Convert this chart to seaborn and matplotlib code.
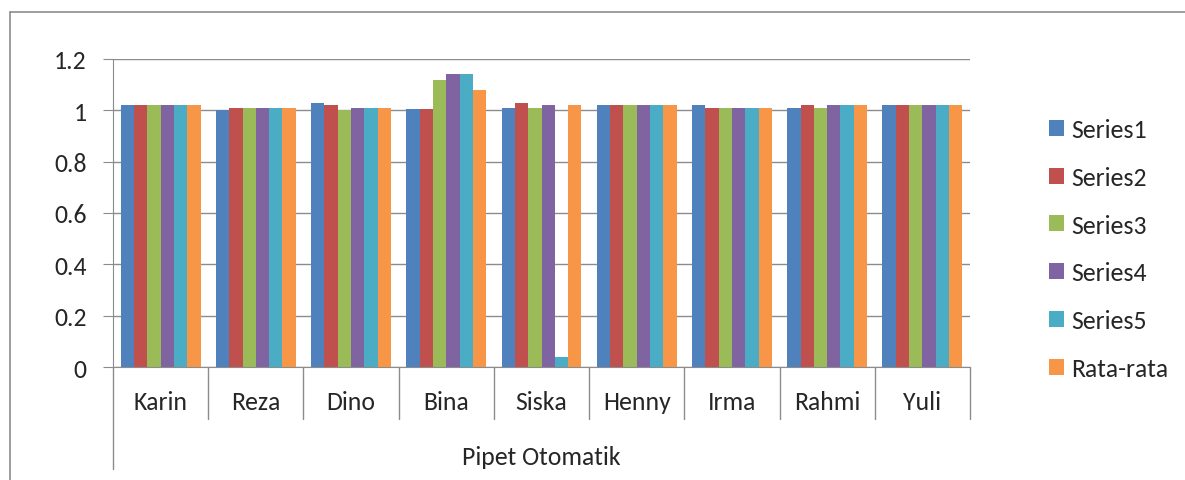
import numpy as np
import pandas as pd
import seaborn as sns
import matplotlib.pyplot as plt
from matplotlib.ticker import FuncFormatter

names = ['Karin', 'Reza', 'Dino', 'Bina', 'Siska', 'Henny', 'Irma', 'Rahmi', 'Yuli']
series_names = ['Series1', 'Series2', 'Series3', 'Series4', 'Series5', 'Rata-rata']

series1 = [1.02, 1.00, 1.03, 1.005, 1.01, 1.02, 1.02, 1.01, 1.02]
series2 = [1.02, 1.01, 1.02, 1.005, 1.03, 1.02, 1.01, 1.02, 1.02]
series3 = [1.02, 1.01, 1.00, 1.12, 1.01, 1.02, 1.01, 1.01, 1.02]
series4 = [1.02, 1.01, 1.01, 1.14, 1.02, 1.02, 1.01, 1.02, 1.02]
series5 = [1.02, 1.01, 1.01, 1.14, 0.04, 1.02, 1.01, 1.02, 1.02]
rata_rata = [1.02, 1.01, 1.01, 1.08, 1.02, 1.02, 1.01, 1.02, 1.02]

colors = ['#4F81BD', '#C0504D', '#9BBB59', '#8064A2', '#4BACC6', '#F79646']

rows = []
for s, vals in zip(series_names, [series1, series2, series3, series4, series5, rata_rata]):
    for n, v in zip(names, vals):
        rows.append({'name': n, 'series': s, 'value': v})
df = pd.DataFrame(rows)

sns.set_style('white')
plt.rcParams['font.family'] = ['Carlito', 'Liberation Sans', 'DejaVu Sans']
fs = 18.5
grey = '#8c8c8c'

fig = plt.figure(figsize=(11.85, 4.81), dpi=100)
ax = fig.add_axes([113 / 1185, 1 - 368 / 481, (970 - 113) / 1185, (368 - 60) / 481])

sns.barplot(data=df, x='name', y='value', hue='series', order=names,
            hue_order=series_names, palette=colors, width=0.84,
            saturation=1, gap=0, ax=ax, legend=True)

for bar in ax.patches:
    bar.set_edgecolor('none')

ax.set_ylim(0, 1.2)
ax.set_yticks([0, 0.2, 0.4, 0.6, 0.8, 1.0, 1.2])
ax.yaxis.set_major_formatter(FuncFormatter(lambda v, p: '%g' % round(v, 1)))
ax.grid(axis='y', color=grey, linewidth=1)
ax.set_axisbelow(True)
ax.set_xlim(-0.5, len(names) - 0.5)
ax.set_xlabel('')
ax.set_ylabel('')
ax.set_xticks([])
ax.tick_params(axis='y', labelsize=fs, length=7, color=grey, left=True, pad=12)
for side in ['top', 'right']:
    ax.spines[side].set_visible(False)
ax.spines['left'].set_color(grey)
ax.spines['bottom'].set_color(grey)

# category labels with separators
for i, n in enumerate(names):
    ax.text(i, -0.136, n, ha='center', va='center', fontsize=fs, clip_on=False)
for i in range(1, len(names) + 1):
    x = i - 0.5
    ax.plot([x, x], [0, -0.203], color=grey, linewidth=1, clip_on=False)
ax.plot([-0.5, -0.5], [0, -0.397], color=grey, linewidth=1, clip_on=False)
ax.text((len(names) - 1) / 2, -0.347, 'Pipet Otomatik', ha='center', va='center', fontsize=fs, clip_on=False)

handles, labels = ax.get_legend_handles_labels()
ax.legend(handles, labels, loc='center left', bbox_to_anchor=(1036 / 1185, 1 - 250 / 481),
          bbox_transform=fig.transFigure, frameon=False, borderpad=0,
          fontsize=fs, handlelength=0.58, handleheight=0.58, labelspacing=0.97,
          handletextpad=0.3)

# outer chart frame
fig.add_artist(plt.Line2D([10 / 1185, 1], [1 - 13 / 481, 1 - 13 / 481], color=grey, linewidth=1.2))
fig.add_artist(plt.Line2D([10 / 1185, 10 / 1185], [0, 1 - 13 / 481], color=grey, linewidth=1.2))

fig.savefig('out.png', dpi=100)
